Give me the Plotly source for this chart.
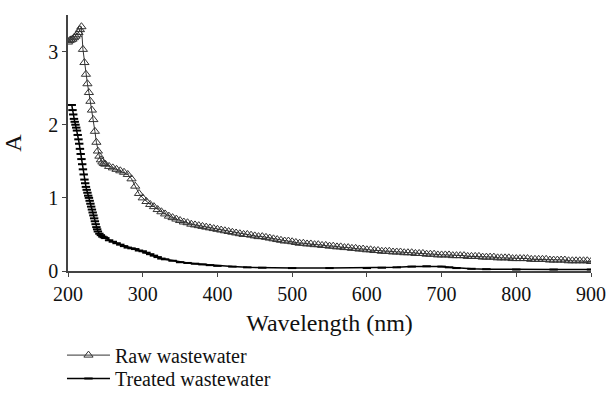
import plotly.graph_objects as go

# Raw wastewater
raw_wl = [200, 202, 204, 206, 208, 210, 212, 214, 216, 218,
          220, 222, 224, 226, 228, 230, 232, 234, 236, 238,
          240, 242, 244, 246, 248,
          250, 255, 260, 265, 270, 275, 280, 285, 290, 295,
          300, 305, 310, 315, 320, 325, 330, 335, 340, 345,
          350, 355, 360, 365, 370, 375, 380, 385, 390, 395,
          400, 405, 410, 415, 420, 425, 430, 435, 440, 445,
          450, 455, 460, 465, 470, 475, 480, 485, 490, 495,
          500, 505, 510, 515, 520, 525, 530, 535, 540, 545,
          550, 555, 560, 565, 570, 575, 580, 585, 590, 595,
          600, 605, 610, 615, 620, 625, 630, 635, 640, 645,
          650, 655, 660, 665, 670, 675, 680, 685, 690, 695,
          700, 705, 710, 715, 720, 725, 730, 735, 740, 745,
          750, 755, 760, 765, 770, 775, 780, 785, 790, 795,
          800, 805, 810, 815, 820, 825, 830, 835, 840, 845,
          850, 855, 860, 865, 870, 875, 880, 885, 890, 895, 900]
raw_a = [3.13, 3.15, 3.16, 3.17, 3.19, 3.21, 3.23, 3.26, 3.30, 3.34,
         3.03, 2.85, 2.69, 2.56, 2.44, 2.32, 2.20, 2.07, 1.91, 1.76,
         1.64, 1.57, 1.52, 1.49, 1.47,
         1.46, 1.43, 1.41, 1.39, 1.37, 1.35, 1.32, 1.26, 1.16, 1.06,
         1.00, 0.95, 0.91, 0.88, 0.84, 0.81, 0.78, 0.75, 0.73, 0.71,
         0.69, 0.67, 0.66, 0.64, 0.63, 0.62, 0.61, 0.60, 0.59, 0.58,
         0.57, 0.56, 0.55, 0.54, 0.53, 0.52, 0.51, 0.50, 0.50, 0.49,
         0.48, 0.47, 0.47, 0.46, 0.45, 0.44, 0.43, 0.42, 0.41, 0.41,
         0.40, 0.39, 0.38, 0.38, 0.37, 0.37, 0.36, 0.36, 0.35, 0.35,
         0.34, 0.34, 0.33, 0.33, 0.32, 0.32, 0.31, 0.31, 0.30, 0.30,
         0.29, 0.29, 0.28, 0.28, 0.27, 0.27, 0.27, 0.26, 0.26, 0.26,
         0.25, 0.25, 0.25, 0.24, 0.24, 0.24, 0.23, 0.23, 0.23, 0.22,
         0.22, 0.22, 0.22, 0.21, 0.21, 0.21, 0.21, 0.20, 0.20, 0.20,
         0.20, 0.19, 0.19, 0.19, 0.19, 0.18, 0.18, 0.18, 0.18, 0.17,
         0.17, 0.17, 0.17, 0.17, 0.16, 0.16, 0.16, 0.16, 0.16, 0.15,
         0.15, 0.15, 0.15, 0.15, 0.14, 0.14, 0.14, 0.14, 0.14, 0.14, 0.13]

# Treated wastewater
treated_wl = [205, 206, 207, 208, 209, 210, 211, 212, 213, 214,
              215, 216, 217, 218, 219, 220, 221, 222, 223, 224,
              225, 226, 227, 228, 229, 230, 231, 232, 233, 234,
              235, 236, 237, 238, 239, 240, 242, 244, 246, 248,
              250, 255, 260, 265, 270, 275, 280, 285, 290, 295,
              300, 305, 310, 315, 320, 325, 330, 340, 350, 360,
              370, 380, 390, 400, 420, 440, 460, 500, 550, 600,
              620, 640, 660, 680, 700, 710, 720, 740, 760, 800,
              850, 900]
treated_a = [2.27, 2.20, 2.14, 2.08, 2.04, 2.00, 1.96, 1.92, 1.86, 1.80,
             1.74, 1.67, 1.60, 1.53, 1.46, 1.39, 1.32, 1.25, 1.20, 1.15,
             1.11, 1.07, 1.03, 1.00, 0.96, 0.92, 0.88, 0.84, 0.80, 0.76,
             0.72, 0.68, 0.64, 0.60, 0.57, 0.54, 0.51, 0.49, 0.47, 0.46,
             0.45, 0.42, 0.40, 0.38, 0.36, 0.34, 0.32, 0.31, 0.30, 0.28,
             0.27, 0.25, 0.23, 0.21, 0.19, 0.17, 0.16, 0.14, 0.12, 0.11,
             0.10, 0.09, 0.08, 0.07, 0.06, 0.05, 0.045, 0.04, 0.04, 0.04,
             0.045, 0.05, 0.06, 0.065, 0.06, 0.05, 0.04, 0.03, 0.025, 0.02,
             0.02, 0.02]

x_ticks = [200, 300, 400, 500, 600, 700, 800, 900]
y_ticks = [0, 1, 2, 3]

FONT = "Liberation Serif"

fig = go.Figure()
fig.add_trace(go.Scatter(
    x=raw_wl, y=raw_a, name="Raw wastewater", mode="lines+markers",
    line=dict(color="#333333", width=1),
    marker=dict(symbol="triangle-up-open", size=8, color="#333333",
                line=dict(width=1, color="#333333")),
    legend="legend",
))
fig.add_trace(go.Scatter(
    x=treated_wl, y=treated_a, name="Treated wastewater", mode="lines+markers",
    line=dict(color="black", width=1.5),
    marker=dict(symbol="line-ew", size=6, color="black",
                line=dict(width=2, color="black")),
    legend="legend2",
))

legend_common = dict(x=-0.0115, xanchor="left", yref="container",
                     bgcolor="rgba(0,0,0,0)", font=dict(size=20, family=FONT, color="#111111"),
                     itemwidth=43, borderwidth=0)

fig.update_layout(
    template="none",
    width=608, height=400,
    margin=dict(l=68, r=17, t=15, b=128.5),
    paper_bgcolor="white", plot_bgcolor="white",
    font=dict(family=FONT, size=20, color="#111111"),
    showlegend=True,
    legend=dict(y=0.161, yanchor="top", **legend_common),
    legend2=dict(y=0.005, yanchor="bottom", **legend_common),
    xaxis=dict(range=[200, 900], tickvals=x_ticks, ticks="outside", ticklen=4,
               tickcolor="#444444", showline=True, linecolor="#444444", linewidth=1.5,
               showgrid=False, zeroline=False, automargin=False,
               title=dict(text="Wavelength (nm)")),
    yaxis=dict(range=[0, 3.5], tickvals=y_ticks, ticks="outside", ticklen=4,
               tickcolor="#444444", showline=True, linecolor="#444444", linewidth=1.5,
               showgrid=False, zeroline=False, automargin=False,
               title=dict(text="A")),
)

fig.write_html("out.html", config={"displayModeBar": False},
               post_script="document.body.style.margin='0';")
